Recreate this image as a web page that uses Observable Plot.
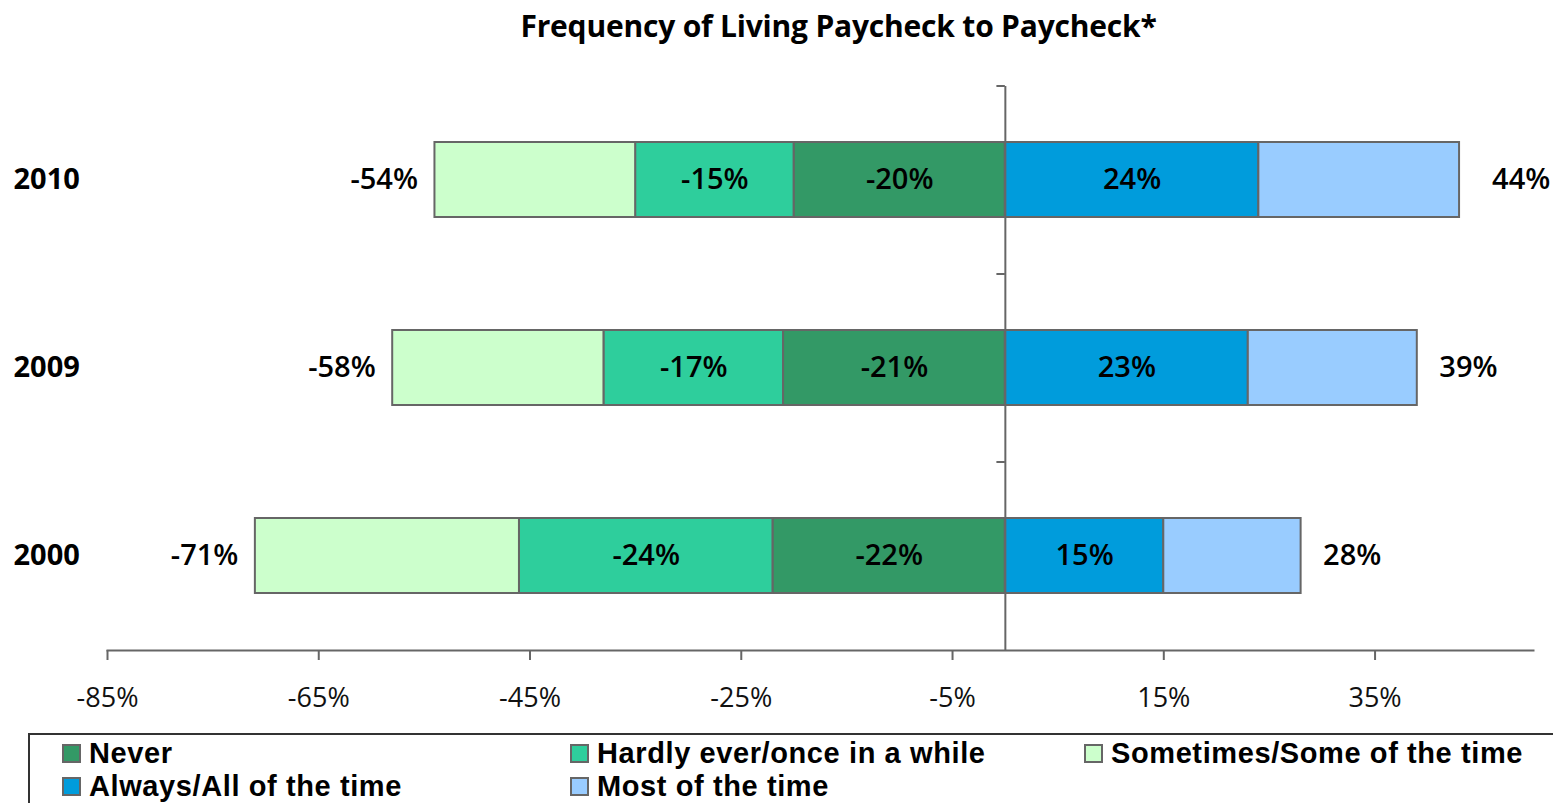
<!DOCTYPE html>
<html>
<head>
<meta charset="utf-8">
<script src="https://cdn.jsdelivr.net/npm/d3@7"></script>
<script src="https://cdn.jsdelivr.net/npm/@observablehq/plot@0.6"></script>
<style>
  html, body { margin: 0; padding: 0; background: #fff; width: 1553px; height: 803px; overflow: hidden; position: relative; }
  #title { height: 60px; box-sizing: border-box; padding-top: 5px; font-family: "Open Sans", sans-serif; font-weight: bold; font-size: 30px; text-align: center; padding-left: 124px; color: #000; letter-spacing: -0.2px; }
  #legend { position: absolute; left: 28px; top: 733px; width: 1600px; height: 120px; border-top: 2px solid #333; border-left: 2px solid #333; font-family: "Liberation Sans", Arial, sans-serif; font-weight: bold; font-size: 29px; letter-spacing: 0.6px; color: #000; }
  .item { position: absolute; display: flex; align-items: center; height: 33px; white-space: nowrap; }
  .item span { line-height: 33px; }
  .sw { width: 15px; height: 15px; border: 2px solid #666; margin-right: 8px; }
</style>
</head>
<body>
<div id="title">Frequency of Living Paycheck to Paycheck*</div>
<div id="chart"></div>
<div id="legend"></div>
<script>
const years = ["2010", "2009", "2000"];
const series = ["Never", "Hardly ever/once in a while", "Sometimes/Some of the time", "Always/All of the time", "Most of the time"];
const colors = ["#339966", "#2ECE9C", "#CCFFCC", "#009CDC", "#99CCFF"];
const never = [-20, -21, -22];
const hardly = [-15, -17, -24];
const sometimes = [-19, -20, -25];
const always = [24, 23, 15];
const most = [19, 16, 13];
const labelled = [true, true, false, true, false];
const negTotals = [-54, -58, -71];
const posTotals = [44, 39, 28];
const xTicks = [-85, -65, -45, -25, -5, 15, 35];

const seriesValues = [never, hardly, sometimes, always, most];
const rows = [];
years.forEach((yr, i) => {
  series.forEach((s, j) => {
    rows.push({year: yr, series: s, value: seriesValues[j][i], show: labelled[j]});
  });
});
const totals = years.map((yr, i) => ({year: yr, neg: negTotals[i], pos: posTotals[i]}));

const fontMain = "'Open Sans', 'Noto Sans', sans-serif";

const chart = Plot.plot({
  width: 1553,
  height: 673,
  marginTop: 26,
  marginBottom: 83,
  marginLeft: 107,
  marginRight: 20,
  style: {fontFamily: fontMain, background: "#fff", overflow: "visible"},
  x: {domain: [-85, 50], axis: null},
  y: {domain: years, paddingInner: 0.6, paddingOuter: 0.3, axis: null},
  color: {domain: series, range: colors},
  marks: [
    Plot.barX(rows, Plot.stackX({x: "value", y: "year", fill: "series", stroke: "#666", strokeWidth: 2})),
    Plot.text(rows, Plot.stackX({x: "value", y: "year", z: "series", text: d => d.show ? d.value + "%" : "", fontSize: 29, fontWeight: 600, fill: "#000"})),
    Plot.ruleX([0], {stroke: "#666", strokeWidth: 2}),
    Plot.ruleY(years, {y: d => d, x1: -0.8, x2: 0, dy: -94, stroke: "#666", strokeWidth: 2}),
    Plot.frame({anchor: "bottom", stroke: "#666", strokeWidth: 2}),
    Plot.axisX({ticks: xTicks, tickFormat: d => d + "%", tickSize: 10, tickPadding: 27, fontSize: 27, stroke: "#666", strokeWidth: 2, fill: "#111", fontWeight: 400}),
    Plot.text(years, {y: d => d, frameAnchor: "left", textAnchor: "start", dx: -94, text: d => d, fontSize: 29, fontWeight: 700, fill: "#000"}),
    Plot.text(totals, {x: "neg", y: "year", text: d => d.neg + "%", textAnchor: "end", dx: -17, fontSize: 29, fontWeight: 600, fill: "#000"}),
    Plot.text(totals, {x: "pos", y: "year", text: d => d.pos + "%", textAnchor: "start", dx: 22, fontSize: 29, fontWeight: 600, fill: "#000"})
  ]
});
document.getElementById("chart").appendChild(chart);

const legendPos = [[32, 2], [540, 2], [1054, 2], [32, 35], [540, 35]];
const legendOrder = [0, 1, 2, 3, 4];
const legend = document.getElementById("legend");
legendOrder.forEach((j, k) => {
  const it = document.createElement("div");
  it.className = "item";
  it.style.left = legendPos[k][0] + "px";
  it.style.top = legendPos[k][1] + "px";
  const sw = document.createElement("div");
  sw.className = "sw";
  sw.style.background = colors[j];
  const tx = document.createElement("span");
  tx.textContent = series[j];
  it.appendChild(sw);
  it.appendChild(tx);
  legend.appendChild(it);
});
</script>
</body>
</html>
